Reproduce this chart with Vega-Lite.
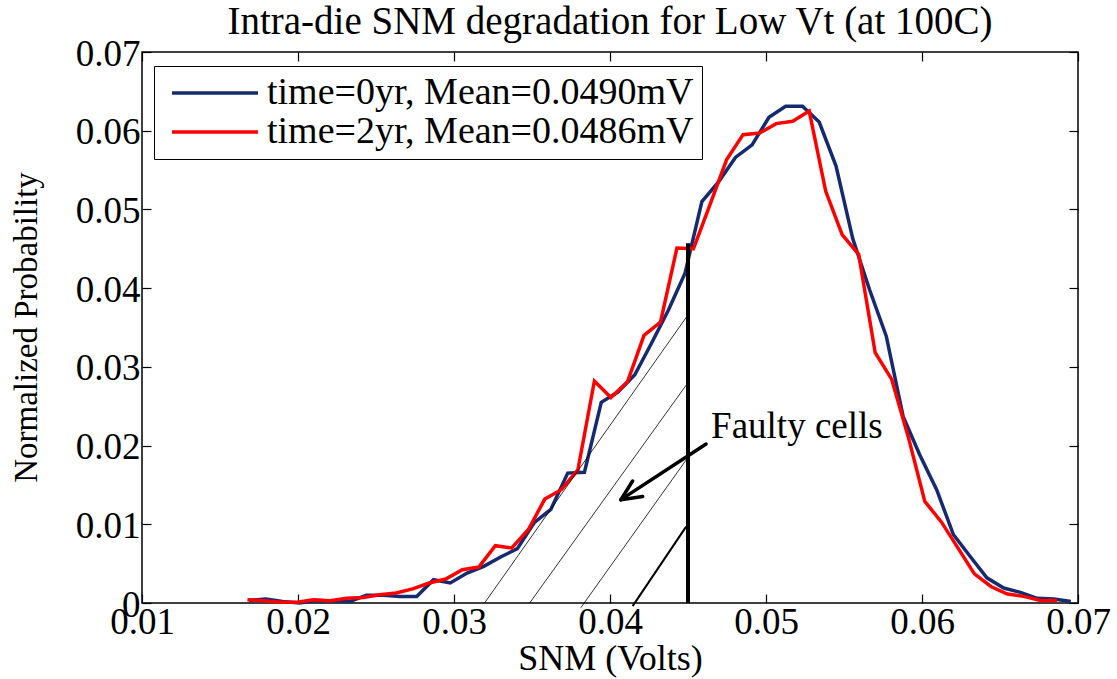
{
  "$schema": "https://vega.github.io/schema/vega-lite/v6.json",
  "width": 936,
  "height": 551,
  "autosize": {"type": "none"},
  "padding": {"left": 142, "top": 52, "right": 39, "bottom": 76},
  "background": "white",
  "title": {
    "text": "Intra-die SNM degradation for Low Vt (at 100C)",
    "font": "Liberation Serif",
    "fontSize": 39,
    "fontWeight": "normal",
    "color": "black",
    "anchor": "middle",
    "baseline": "alphabetic",
    "offset": -38
  },
  "config": {
    "view": {"stroke": "black", "strokeWidth": 1.5},
    "font": "Liberation Serif",
    "axis": {
      "grid": false,
      "domain": false,
      "tickColor": "black",
      "tickWidth": 1.2,
      "labelColor": "black",
      "labelFont": "Liberation Serif",
      "labelFontSize": 37,
      "titleColor": "black",
      "titleFont": "Liberation Serif",
      "titleFontWeight": "normal"
    }
  },
  "resolve": {"axis": {"x": "independent", "y": "independent"}},
  "datasets": {
    "curves": [
      {"series": "time=0yr, Mean=0.0490mV", "snm": 0.01686, "prob": 0.00033},
      {"series": "time=0yr, Mean=0.0490mV", "snm": 0.01794, "prob": 0.0005},
      {"series": "time=0yr, Mean=0.0490mV", "snm": 0.01901, "prob": 0.0002},
      {"series": "time=0yr, Mean=0.0490mV", "snm": 0.02009, "prob": 0.0},
      {"series": "time=0yr, Mean=0.0490mV", "snm": 0.02116, "prob": 0.0003},
      {"series": "time=0yr, Mean=0.0490mV", "snm": 0.02224, "prob": 0.0003},
      {"series": "time=0yr, Mean=0.0490mV", "snm": 0.02331, "prob": 0.0002},
      {"series": "time=0yr, Mean=0.0490mV", "snm": 0.02439, "prob": 0.00097},
      {"series": "time=0yr, Mean=0.0490mV", "snm": 0.02546, "prob": 0.00097},
      {"series": "time=0yr, Mean=0.0490mV", "snm": 0.02654, "prob": 0.00084},
      {"series": "time=0yr, Mean=0.0490mV", "snm": 0.02761, "prob": 0.00084},
      {"series": "time=0yr, Mean=0.0490mV", "snm": 0.02869, "prob": 0.00296},
      {"series": "time=0yr, Mean=0.0490mV", "snm": 0.02976, "prob": 0.00254},
      {"series": "time=0yr, Mean=0.0490mV", "snm": 0.03084, "prob": 0.0038},
      {"series": "time=0yr, Mean=0.0490mV", "snm": 0.03191, "prob": 0.00465},
      {"series": "time=0yr, Mean=0.0490mV", "snm": 0.03299, "prob": 0.00584},
      {"series": "time=0yr, Mean=0.0490mV", "snm": 0.03406, "prob": 0.0069},
      {"series": "time=0yr, Mean=0.0490mV", "snm": 0.03514, "prob": 0.0102},
      {"series": "time=0yr, Mean=0.0490mV", "snm": 0.03621, "prob": 0.0119},
      {"series": "time=0yr, Mean=0.0490mV", "snm": 0.03729, "prob": 0.0165},
      {"series": "time=0yr, Mean=0.0490mV", "snm": 0.03836, "prob": 0.0166},
      {"series": "time=0yr, Mean=0.0490mV", "snm": 0.03944, "prob": 0.0255},
      {"series": "time=0yr, Mean=0.0490mV", "snm": 0.04051, "prob": 0.0268},
      {"series": "time=0yr, Mean=0.0490mV", "snm": 0.04159, "prob": 0.029},
      {"series": "time=0yr, Mean=0.0490mV", "snm": 0.04266, "prob": 0.033},
      {"series": "time=0yr, Mean=0.0490mV", "snm": 0.04374, "prob": 0.0372},
      {"series": "time=0yr, Mean=0.0490mV", "snm": 0.04481, "prob": 0.0419},
      {"series": "time=0yr, Mean=0.0490mV", "snm": 0.04589, "prob": 0.051},
      {"series": "time=0yr, Mean=0.0490mV", "snm": 0.04696, "prob": 0.0535},
      {"series": "time=0yr, Mean=0.0490mV", "snm": 0.04804, "prob": 0.0566},
      {"series": "time=0yr, Mean=0.0490mV", "snm": 0.04911, "prob": 0.0582},
      {"series": "time=0yr, Mean=0.0490mV", "snm": 0.05019, "prob": 0.0617},
      {"series": "time=0yr, Mean=0.0490mV", "snm": 0.05126, "prob": 0.0631},
      {"series": "time=0yr, Mean=0.0490mV", "snm": 0.05234, "prob": 0.0631},
      {"series": "time=0yr, Mean=0.0490mV", "snm": 0.05341, "prob": 0.0611},
      {"series": "time=0yr, Mean=0.0490mV", "snm": 0.05449, "prob": 0.0555},
      {"series": "time=0yr, Mean=0.0490mV", "snm": 0.05556, "prob": 0.0463},
      {"series": "time=0yr, Mean=0.0490mV", "snm": 0.05664, "prob": 0.0398},
      {"series": "time=0yr, Mean=0.0490mV", "snm": 0.05771, "prob": 0.0339},
      {"series": "time=0yr, Mean=0.0490mV", "snm": 0.05879, "prob": 0.0237},
      {"series": "time=0yr, Mean=0.0490mV", "snm": 0.05986, "prob": 0.0188},
      {"series": "time=0yr, Mean=0.0490mV", "snm": 0.06094, "prob": 0.0144},
      {"series": "time=0yr, Mean=0.0490mV", "snm": 0.06201, "prob": 0.0087},
      {"series": "time=0yr, Mean=0.0490mV", "snm": 0.06309, "prob": 0.0059},
      {"series": "time=0yr, Mean=0.0490mV", "snm": 0.06416, "prob": 0.0032},
      {"series": "time=0yr, Mean=0.0490mV", "snm": 0.06524, "prob": 0.0019},
      {"series": "time=0yr, Mean=0.0490mV", "snm": 0.06631, "prob": 0.00135},
      {"series": "time=0yr, Mean=0.0490mV", "snm": 0.06739, "prob": 0.0006},
      {"series": "time=0yr, Mean=0.0490mV", "snm": 0.06846, "prob": 0.0005},
      {"series": "time=0yr, Mean=0.0490mV", "snm": 0.06954, "prob": 0.0002},
      {"series": "time=2yr, Mean=0.0486mV", "snm": 0.01676, "prob": 0.00042},
      {"series": "time=2yr, Mean=0.0486mV", "snm": 0.01782, "prob": 0.0003},
      {"series": "time=2yr, Mean=0.0486mV", "snm": 0.01888, "prob": 0.0001},
      {"series": "time=2yr, Mean=0.0486mV", "snm": 0.01994, "prob": 0.0001},
      {"series": "time=2yr, Mean=0.0486mV", "snm": 0.021, "prob": 0.0004},
      {"series": "time=2yr, Mean=0.0486mV", "snm": 0.02206, "prob": 0.0003},
      {"series": "time=2yr, Mean=0.0486mV", "snm": 0.02311, "prob": 0.0006},
      {"series": "time=2yr, Mean=0.0486mV", "snm": 0.02417, "prob": 0.0007},
      {"series": "time=2yr, Mean=0.0486mV", "snm": 0.02523, "prob": 0.00105},
      {"series": "time=2yr, Mean=0.0486mV", "snm": 0.02629, "prob": 0.00127},
      {"series": "time=2yr, Mean=0.0486mV", "snm": 0.02735, "prob": 0.0018},
      {"series": "time=2yr, Mean=0.0486mV", "snm": 0.02841, "prob": 0.00254},
      {"series": "time=2yr, Mean=0.0486mV", "snm": 0.02947, "prob": 0.00305},
      {"series": "time=2yr, Mean=0.0486mV", "snm": 0.03053, "prob": 0.00423},
      {"series": "time=2yr, Mean=0.0486mV", "snm": 0.03159, "prob": 0.00457},
      {"series": "time=2yr, Mean=0.0486mV", "snm": 0.03265, "prob": 0.00728},
      {"series": "time=2yr, Mean=0.0486mV", "snm": 0.0337, "prob": 0.00699},
      {"series": "time=2yr, Mean=0.0486mV", "snm": 0.03476, "prob": 0.0093},
      {"series": "time=2yr, Mean=0.0486mV", "snm": 0.03582, "prob": 0.0132},
      {"series": "time=2yr, Mean=0.0486mV", "snm": 0.03688, "prob": 0.0144},
      {"series": "time=2yr, Mean=0.0486mV", "snm": 0.03794, "prob": 0.0169},
      {"series": "time=2yr, Mean=0.0486mV", "snm": 0.039, "prob": 0.0282},
      {"series": "time=2yr, Mean=0.0486mV", "snm": 0.04006, "prob": 0.0261},
      {"series": "time=2yr, Mean=0.0486mV", "snm": 0.04112, "prob": 0.0281},
      {"series": "time=2yr, Mean=0.0486mV", "snm": 0.04218, "prob": 0.034},
      {"series": "time=2yr, Mean=0.0486mV", "snm": 0.04324, "prob": 0.0357},
      {"series": "time=2yr, Mean=0.0486mV", "snm": 0.04429, "prob": 0.0451},
      {"series": "time=2yr, Mean=0.0486mV", "snm": 0.04535, "prob": 0.045},
      {"series": "time=2yr, Mean=0.0486mV", "snm": 0.04641, "prob": 0.0506},
      {"series": "time=2yr, Mean=0.0486mV", "snm": 0.04747, "prob": 0.0563},
      {"series": "time=2yr, Mean=0.0486mV", "snm": 0.04853, "prob": 0.0595},
      {"series": "time=2yr, Mean=0.0486mV", "snm": 0.04959, "prob": 0.0597},
      {"series": "time=2yr, Mean=0.0486mV", "snm": 0.05065, "prob": 0.0609},
      {"series": "time=2yr, Mean=0.0486mV", "snm": 0.05171, "prob": 0.0612},
      {"series": "time=2yr, Mean=0.0486mV", "snm": 0.05277, "prob": 0.0625},
      {"series": "time=2yr, Mean=0.0486mV", "snm": 0.05383, "prob": 0.0523},
      {"series": "time=2yr, Mean=0.0486mV", "snm": 0.05488, "prob": 0.0468},
      {"series": "time=2yr, Mean=0.0486mV", "snm": 0.05594, "prob": 0.0443},
      {"series": "time=2yr, Mean=0.0486mV", "snm": 0.057, "prob": 0.0318},
      {"series": "time=2yr, Mean=0.0486mV", "snm": 0.05806, "prob": 0.0284},
      {"series": "time=2yr, Mean=0.0486mV", "snm": 0.05912, "prob": 0.0211},
      {"series": "time=2yr, Mean=0.0486mV", "snm": 0.06018, "prob": 0.0129},
      {"series": "time=2yr, Mean=0.0486mV", "snm": 0.06124, "prob": 0.0103},
      {"series": "time=2yr, Mean=0.0486mV", "snm": 0.0623, "prob": 0.007},
      {"series": "time=2yr, Mean=0.0486mV", "snm": 0.06336, "prob": 0.0037},
      {"series": "time=2yr, Mean=0.0486mV", "snm": 0.06442, "prob": 0.0021},
      {"series": "time=2yr, Mean=0.0486mV", "snm": 0.06547, "prob": 0.00114},
      {"series": "time=2yr, Mean=0.0486mV", "snm": 0.06653, "prob": 0.00084},
      {"series": "time=2yr, Mean=0.0486mV", "snm": 0.06759, "prob": 0.00033},
      {"series": "time=2yr, Mean=0.0486mV", "snm": 0.06865, "prob": 0.00033}
    ],
    "hatch": [
      {"x": 0.03196, "y": 0, "x2": 0.045, "y2": 0.0366},
      {"x": 0.03485, "y": 0, "x2": 0.045, "y2": 0.028},
      {"x": 0.03813, "y": -0.0006, "x2": 0.045, "y2": 0.0185}
    ],
    "hatchThick": [
      {"x": 0.04145, "y": -0.0004, "x2": 0.04488, "y2": 0.0097}
    ],
    "threshold": [
      {"x": 0.045, "y": 0, "y2": 0.0457}
    ],
    "arrow": [
      {"x": 0.04616, "y": 0.0202, "x2": 0.0407, "y2": 0.01313},
      {"x": 0.0407, "y": 0.01313, "x2": 0.0421, "y2": 0.01352},
      {"x": 0.0407, "y": 0.01313, "x2": 0.04145, "y2": 0.0155}
    ],
    "label": [
      {"x": 0.04648, "y": 0.0223, "text": "Faulty cells"}
    ]
  },
  "layer": [
    {
      "data": {"name": "curves"},
      "mark": {"type": "line", "strokeWidth": 3.5, "clip": false},
      "encoding": {
        "x": {
          "field": "snm",
          "type": "quantitative",
          "scale": {"domain": [0.01, 0.07], "nice": false, "zero": false},
          "axis": {
            "orient": "bottom",
            "values": [0.01, 0.02, 0.03, 0.04, 0.05, 0.06, 0.07],
            "labelExpr": "format(datum.value, '.2f')",
            "tickSize": -9,
            "labelPadding": 39,
            "labelBaseline": "alphabetic",
            "labelFlush": false,
            "labelOverlap": false,
            "title": "SNM (Volts)",
            "titleFont": "Liberation Serif",
            "titleFontSize": 36,
            "titleX": 468,
            "titleY": 66,
            "titleBaseline": "alphabetic",
            "titleAlign": "center"
          }
        },
        "y": {
          "field": "prob",
          "type": "quantitative",
          "scale": {"domain": [0, 0.07], "nice": false, "zero": false},
          "axis": {
            "orient": "left",
            "values": [0, 0.01, 0.02, 0.03, 0.04, 0.05, 0.06, 0.07],
            "labelExpr": "datum.value == 0 ? '0' : format(datum.value, '.2f')",
            "tickSize": -9,
            "labelPadding": 11,
            "labelBaseline": "middle",
            "labelFlush": false,
            "labelOverlap": false,
            "labelOffset": 2,
            "title": "Normalized Probability",
            "titleFont": "Liberation Serif",
            "titleFontSize": 33,
            "titleAngle": -90,
            "titleX": -106,
            "titleY": 275,
            "titleBaseline": "alphabetic",
            "titleAlign": "center"
          }
        },
        "color": {
          "field": "series",
          "type": "nominal",
          "scale": {
            "domain": ["time=0yr, Mean=0.0490mV", "time=2yr, Mean=0.0486mV"],
            "range": ["#162a70", "#ff0000"]
          },
          "legend": {
            "title": null,
            "orient": "none",
            "legendX": 12,
            "legendY": 14,
            "symbolType": "M-4,0L4,0",
            "symbolSize": 462,
            "symbolOffset": 34,
            "symbolStrokeWidth": 3.5,
            "labelFont": "Liberation Serif",
            "labelFontSize": 38,
            "labelColor": "black",
            "labelLimit": 0,
            "labelOffset": 33,
            "strokeColor": "black",
            "fillColor": "white",
            "padding": 8,
            "rowPadding": 1
          }
        }
      }
    },
    {
      "data": {"name": "hatch"},
      "mark": {"type": "rule", "color": "black", "strokeWidth": 0.8},
      "encoding": {
        "x": {
          "field": "x",
          "type": "quantitative",
          "scale": {"domain": [0.01, 0.07], "nice": false, "zero": false},
          "axis": {
            "orient": "top",
            "values": [0.01, 0.02, 0.03, 0.04, 0.05, 0.06, 0.07],
            "labels": false,
            "tickSize": -9,
            "title": null
          }
        },
        "y": {
          "field": "y",
          "type": "quantitative",
          "scale": {"domain": [0, 0.07], "nice": false, "zero": false},
          "axis": {
            "orient": "right",
            "values": [0, 0.01, 0.02, 0.03, 0.04, 0.05, 0.06, 0.07],
            "labels": false,
            "tickSize": -9,
            "title": null
          }
        },
        "x2": {"field": "x2"},
        "y2": {"field": "y2"}
      }
    },
    {
      "data": {"name": "hatchThick"},
      "mark": {"type": "rule", "color": "black", "strokeWidth": 2},
      "encoding": {
        "x": {"field": "x", "type": "quantitative", "scale": {"domain": [0.01, 0.07], "nice": false, "zero": false}, "axis": null},
        "y": {"field": "y", "type": "quantitative", "scale": {"domain": [0, 0.07], "nice": false, "zero": false}, "axis": null},
        "x2": {"field": "x2"},
        "y2": {"field": "y2"}
      }
    },
    {
      "data": {"name": "threshold"},
      "mark": {"type": "rule", "color": "black", "strokeWidth": 4},
      "encoding": {
        "x": {"field": "x", "type": "quantitative", "scale": {"domain": [0.01, 0.07], "nice": false, "zero": false}, "axis": null},
        "y": {"field": "y", "type": "quantitative", "scale": {"domain": [0, 0.07], "nice": false, "zero": false}, "axis": null},
        "y2": {"field": "y2"}
      }
    },
    {
      "data": {"name": "arrow"},
      "mark": {"type": "rule", "color": "black", "strokeWidth": 3.5, "strokeCap": "round"},
      "encoding": {
        "x": {"field": "x", "type": "quantitative", "scale": {"domain": [0.01, 0.07], "nice": false, "zero": false}, "axis": null},
        "y": {"field": "y", "type": "quantitative", "scale": {"domain": [0, 0.07], "nice": false, "zero": false}, "axis": null},
        "x2": {"field": "x2"},
        "y2": {"field": "y2"}
      }
    },
    {
      "data": {"name": "label"},
      "mark": {"type": "text", "font": "Liberation Serif", "fontSize": 37, "align": "left", "baseline": "middle", "color": "black"},
      "encoding": {
        "x": {"field": "x", "type": "quantitative", "scale": {"domain": [0.01, 0.07], "nice": false, "zero": false}, "axis": null},
        "y": {"field": "y", "type": "quantitative", "scale": {"domain": [0, 0.07], "nice": false, "zero": false}, "axis": null},
        "text": {"field": "text"}
      }
    }
  ]
}
